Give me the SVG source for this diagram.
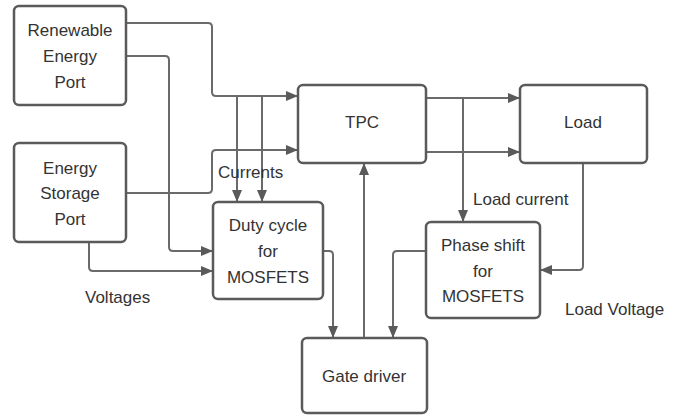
<svg xmlns="http://www.w3.org/2000/svg" width="680" height="417" viewBox="0 0 680 417">
<defs>
<marker id="ah" viewBox="0 0 12 10" refX="12" refY="5" markerWidth="12" markerHeight="10" markerUnits="userSpaceOnUse" orient="auto">
<path d="M0,0 L12,5 L0,10 Z" fill="#5a5a5a"/>
</marker>
<style>
.box{fill:#fff;stroke:#5a5a5a;stroke-width:2.5}
.t{font-family:"Liberation Sans",Arial,sans-serif;font-size:17px;fill:#333;text-anchor:middle}
.l{font-family:"Liberation Sans",Arial,sans-serif;font-size:17px;fill:#333}
.c{fill:none;stroke:#6a6a6a;stroke-width:2;marker-end:url(#ah)}
</style>
</defs>
<rect width="680" height="417" fill="#fff"/>
<g id="connectors">
<path class="c" d="M126,23 H208 Q212,23 212,27 V92 Q212,96 216,96 H298"/>
<path class="c" d="M126,56 H165 Q169,56 169,60 V247 Q169,251 173,251 H213"/>
<path class="c" d="M126,193 H208 Q212,193 212,189 V154 Q212,150 216,150 H298"/>
<path class="c" d="M89,242 V267 Q89,271 93,271 H213"/>
<path class="c" d="M237,96 V202"/>
<path class="c" d="M262,96 V202"/>
<path class="c" d="M426,98 H520"/>
<path class="c" d="M426,152 H520"/>
<path class="c" d="M463,98 V222"/>
<path class="c" d="M583,163 V266 Q583,270 579,270 H540"/>
<path class="c" d="M426,251 H397 Q393,251 393,255 V338"/>
<path class="c" d="M323,251 H329 Q333,251 333,255 V338"/>
<path class="c" d="M364,338 V163"/>
</g>
<g id="renewable">
<rect class="box" x="14" y="6" width="112" height="99" rx="5"/>
<text class="t" x="70" y="36">Renewable</text>
<text class="t" x="70" y="62">Energy</text>
<text class="t" x="70" y="88">Port</text>
</g>
<g id="storage">
<rect class="box" x="14" y="143" width="112" height="99" rx="5"/>
<text class="t" x="70" y="174">Energy</text>
<text class="t" x="70" y="199">Storage</text>
<text class="t" x="70" y="225">Port</text>
</g>
<g id="tpc">
<rect class="box" x="298" y="85" width="128" height="78" rx="5"/>
<text class="t" x="362" y="128">TPC</text>
</g>
<g id="load">
<rect class="box" x="520" y="85" width="127" height="78" rx="5"/>
<text class="t" x="583" y="128">Load</text>
</g>
<g id="duty">
<rect class="box" x="213" y="202" width="110" height="97" rx="5"/>
<text class="t" x="268" y="231">Duty cycle</text>
<text class="t" x="268" y="257">for</text>
<text class="t" x="268" y="283">MOSFETS</text>
</g>
<g id="phase">
<rect class="box" x="426" y="222" width="114" height="96" rx="5"/>
<text class="t" x="483" y="251">Phase shift</text>
<text class="t" x="483" y="277">for</text>
<text class="t" x="483" y="302">MOSFETS</text>
</g>
<g id="gate">
<rect class="box" x="302" y="338" width="125" height="75" rx="5"/>
<text class="t" x="364" y="382">Gate driver</text>
</g>
<g id="labels">
<text class="l" x="218" y="178">Currents</text>
<text class="l" x="473" y="205">Load current</text>
<text class="l" x="85" y="303">Voltages</text>
<text class="l" x="565" y="315">Load Voltage</text>
</g>
</svg>
